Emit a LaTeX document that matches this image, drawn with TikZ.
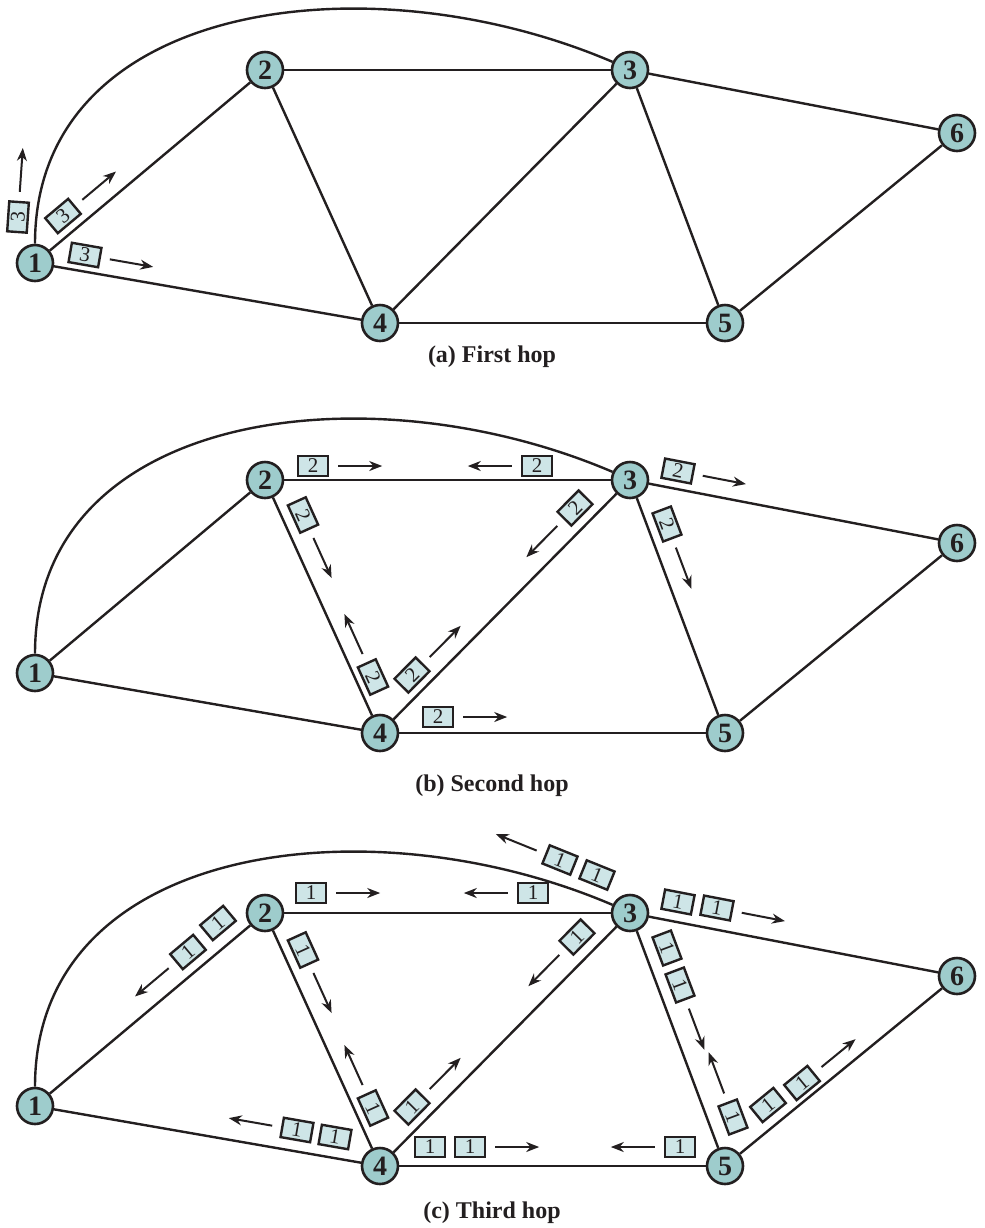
\documentclass[tikz,border=0pt]{standalone}
\usepackage{fontspec}
\setmainfont{Liberation Serif}
\usetikzlibrary{arrows.meta,calc}

\definecolor{hostfill}{RGB}{158,204,204}
\definecolor{pktfill}{RGB}{206,229,231}
\definecolor{ink}{RGB}{35,31,32}

\tikzset{
  host/.style={circle,draw=ink,fill=hostfill,line width=1.3pt,minimum size=18pt,inner sep=0pt,text=ink,font=\bfseries\fontsize{14}{14}\selectfont},
  edgeline/.style={draw=ink,line width=1.2pt},
  pkt/.style={rectangle,draw=ink,fill=pktfill,line width=1.2pt,minimum width=15pt,minimum height=9.8pt,inner sep=0pt,text=ink,font=\fontsize{10.5}{10.5}\selectfont},
  mv/.style={draw=ink,line width=1pt,-{Stealth[length=6.5pt,width=5pt]}},
  hoplabel/.style={anchor=base,inner sep=0pt,text=ink,font=\bfseries\fontsize{12}{14}\selectfont}
}

\begin{document}
\begin{tikzpicture}[x=.5pt,y=-.5pt]
\path[use as bounding box] (0,0) rectangle (985,1228);
\path[fill=white,draw=none] (0,0) rectangle (985,1228);

% (a) first hop
\node[host] (a1) at (35,263) {1};
\node[host] (a2) at (265,70) {2};
\node[host] (a3) at (630,70) {3};
\node[host] (a4) at (380,323) {4};
\node[host] (a5) at (725,323) {5};
\node[host] (a6) at (957,133) {6};
\draw[edgeline] (a1.north) .. controls +(0,-244) and +(-243,-104) .. (a3.155);
\draw[edgeline] (a1) -- (a2);
\draw[edgeline] (a1) -- (a4);
\draw[edgeline] (a2) -- (a3);
\draw[edgeline] (a2) -- (a4);
\draw[edgeline] (a3) -- (a4);
\draw[edgeline] (a3) -- (a5);
\draw[edgeline] (a3) -- (a6);
\draw[edgeline] (a4) -- (a5);
\draw[edgeline] (a5) -- (a6);
\node[pkt,rotate=86] (a-p1) at (18,217) {3};
\node[pkt,rotate=40] (a-p2) at (63,216) {3};
\node[pkt,rotate=-9.9] (a-p3) at (85,255) {3};
\draw[mv] ($(a-p1.east)!-4.5pt!(a-p1.west)$) -- ($(a-p1.east)!-26.5pt!(a-p1.west)$);
\draw[mv] ($(a-p2.east)!-4.5pt!(a-p2.west)$) -- ($(a-p2.east)!-26.5pt!(a-p2.west)$);
\draw[mv] ($(a-p3.east)!-4.5pt!(a-p3.west)$) -- ($(a-p3.east)!-26.5pt!(a-p3.west)$);
\node[hoplabel] (a-cap) at (492,362) {(a) First hop};

% (b) second hop
\node[host] (b1) at (35,673) {1};
\node[host] (b2) at (265,480) {2};
\node[host] (b3) at (630,480) {3};
\node[host] (b4) at (380,733) {4};
\node[host] (b5) at (725,733) {5};
\node[host] (b6) at (957,543) {6};
\draw[edgeline] (b1.north) .. controls +(0,-244) and +(-243,-104) .. (b3.155);
\draw[edgeline] (b1) -- (b2);
\draw[edgeline] (b1) -- (b4);
\draw[edgeline] (b2) -- (b3);
\draw[edgeline] (b2) -- (b4);
\draw[edgeline] (b3) -- (b4);
\draw[edgeline] (b3) -- (b5);
\draw[edgeline] (b3) -- (b6);
\draw[edgeline] (b4) -- (b5);
\draw[edgeline] (b5) -- (b6);
\node[pkt] (b-p1) at (313,466) {2};
\node[pkt] (b-p2) at (537,466) {2};
\node[pkt,rotate=-10.9] (b-p3) at (678,471) {2};
\node[pkt,rotate=-65.6] (b-p4) at (303,515) {2};
\node[pkt,rotate=45.3] (b-p5) at (575,508) {2};
\node[pkt,rotate=-69.4] (b-p6) at (667,524) {2};
\node[pkt,rotate=-65.6] (b-p7) at (373,677) {2};
\node[pkt,rotate=45.3] (b-p8) at (412,675) {2};
\node[pkt] (b-p9) at (438,717) {2};
\draw[mv] ($(b-p1.east)!-4.5pt!(b-p1.west)$) -- ($(b-p1.east)!-26.5pt!(b-p1.west)$);
\draw[mv] ($(b-p2.west)!-4.5pt!(b-p2.east)$) -- ($(b-p2.west)!-26.5pt!(b-p2.east)$);
\draw[mv] ($(b-p3.east)!-4.5pt!(b-p3.west)$) -- ($(b-p3.east)!-26.5pt!(b-p3.west)$);
\draw[mv] ($(b-p4.east)!-4.5pt!(b-p4.west)$) -- ($(b-p4.east)!-26.5pt!(b-p4.west)$);
\draw[mv] ($(b-p5.west)!-4.5pt!(b-p5.east)$) -- ($(b-p5.west)!-26.5pt!(b-p5.east)$);
\draw[mv] ($(b-p6.east)!-4.5pt!(b-p6.west)$) -- ($(b-p6.east)!-26.5pt!(b-p6.west)$);
\draw[mv] ($(b-p7.west)!-4.5pt!(b-p7.east)$) -- ($(b-p7.west)!-26.5pt!(b-p7.east)$);
\draw[mv] ($(b-p8.east)!-4.5pt!(b-p8.west)$) -- ($(b-p8.east)!-26.5pt!(b-p8.west)$);
\draw[mv] ($(b-p9.east)!-4.5pt!(b-p9.west)$) -- ($(b-p9.east)!-26.5pt!(b-p9.west)$);
\node[hoplabel] (b-cap) at (492,791) {(b) Second hop};

% (c) third hop
\node[host] (c1) at (35,1106) {1};
\node[host] (c2) at (265,913) {2};
\node[host] (c3) at (630,913) {3};
\node[host] (c4) at (380,1166) {4};
\node[host] (c5) at (725,1166) {5};
\node[host] (c6) at (957,976) {6};
\draw[edgeline] (c1.north) .. controls +(0,-244) and +(-243,-104) .. (c3.155);
\draw[edgeline] (c1) -- (c2);
\draw[edgeline] (c1) -- (c4);
\draw[edgeline] (c2) -- (c3);
\draw[edgeline] (c2) -- (c4);
\draw[edgeline] (c3) -- (c4);
\draw[edgeline] (c3) -- (c5);
\draw[edgeline] (c3) -- (c6);
\draw[edgeline] (c4) -- (c5);
\draw[edgeline] (c5) -- (c6);
\node[pkt,rotate=-22] (c-p1) at (560,860) {1};
\node[pkt,rotate=-22] (c-p2) at (597,875) {1};
\node[pkt] (c-p3) at (311,893) {1};
\node[pkt] (c-p4) at (533,893) {1};
\node[pkt,rotate=-10.9] (c-p5) at (678,902) {1};
\node[pkt,rotate=-10.9] (c-p6) at (717,908) {1};
\node[pkt,rotate=40] (c-p7) at (218,923) {1};
\node[pkt,rotate=40] (c-p8) at (188,952) {1};
\node[pkt,rotate=-65.6] (c-p9) at (303,950) {1};
\node[pkt,rotate=45.3] (c-p10) at (577,937) {1};
\node[pkt,rotate=-69.4] (c-p11) at (667,948) {1};
\node[pkt,rotate=-69.4] (c-p12) at (680,985) {1};
\node[pkt,rotate=-65.6] (c-p13) at (373,1108) {1};
\node[pkt,rotate=45.3] (c-p14) at (412,1107) {1};
\node[pkt,rotate=-9.9] (c-p15) at (335,1137) {1};
\node[pkt,rotate=-9.9] (c-p16) at (297,1130) {1};
\node[pkt] (c-p17) at (430,1147) {1};
\node[pkt] (c-p18) at (470,1147) {1};
\node[pkt] (c-p19) at (680,1147) {1};
\node[pkt,rotate=-69.4] (c-p20) at (733,1117) {1};
\node[pkt,rotate=39.3] (c-p21) at (768,1105) {1};
\node[pkt,rotate=39.3] (c-p22) at (802,1083) {1};
\draw[mv] ($(c-p1.west)!-4.5pt!(c-p1.east)$) -- ($(c-p1.west)!-26.5pt!(c-p1.east)$);
\draw[mv] ($(c-p3.east)!-4.5pt!(c-p3.west)$) -- ($(c-p3.east)!-26.5pt!(c-p3.west)$);
\draw[mv] ($(c-p4.west)!-4.5pt!(c-p4.east)$) -- ($(c-p4.west)!-26.5pt!(c-p4.east)$);
\draw[mv] ($(c-p6.east)!-4.5pt!(c-p6.west)$) -- ($(c-p6.east)!-26.5pt!(c-p6.west)$);
\draw[mv] ($(c-p8.west)!-4.5pt!(c-p8.east)$) -- ($(c-p8.west)!-26.5pt!(c-p8.east)$);
\draw[mv] ($(c-p9.east)!-4.5pt!(c-p9.west)$) -- ($(c-p9.east)!-26.5pt!(c-p9.west)$);
\draw[mv] ($(c-p10.west)!-4.5pt!(c-p10.east)$) -- ($(c-p10.west)!-26.5pt!(c-p10.east)$);
\draw[mv] ($(c-p12.east)!-4.5pt!(c-p12.west)$) -- ($(c-p12.east)!-26.5pt!(c-p12.west)$);
\draw[mv] ($(c-p13.west)!-4.5pt!(c-p13.east)$) -- ($(c-p13.west)!-26.5pt!(c-p13.east)$);
\draw[mv] ($(c-p14.east)!-4.5pt!(c-p14.west)$) -- ($(c-p14.east)!-26.5pt!(c-p14.west)$);
\draw[mv] ($(c-p16.west)!-4.5pt!(c-p16.east)$) -- ($(c-p16.west)!-26.5pt!(c-p16.east)$);
\draw[mv] ($(c-p18.east)!-4.5pt!(c-p18.west)$) -- ($(c-p18.east)!-26.5pt!(c-p18.west)$);
\draw[mv] ($(c-p19.west)!-4.5pt!(c-p19.east)$) -- ($(c-p19.west)!-26.5pt!(c-p19.east)$);
\draw[mv] ($(c-p20.west)!-4.5pt!(c-p20.east)$) -- ($(c-p20.west)!-26.5pt!(c-p20.east)$);
\draw[mv] ($(c-p22.east)!-4.5pt!(c-p22.west)$) -- ($(c-p22.east)!-26.5pt!(c-p22.west)$);
\node[hoplabel] (c-cap) at (492,1218) {(c) Third hop};
\end{tikzpicture}
\end{document}
